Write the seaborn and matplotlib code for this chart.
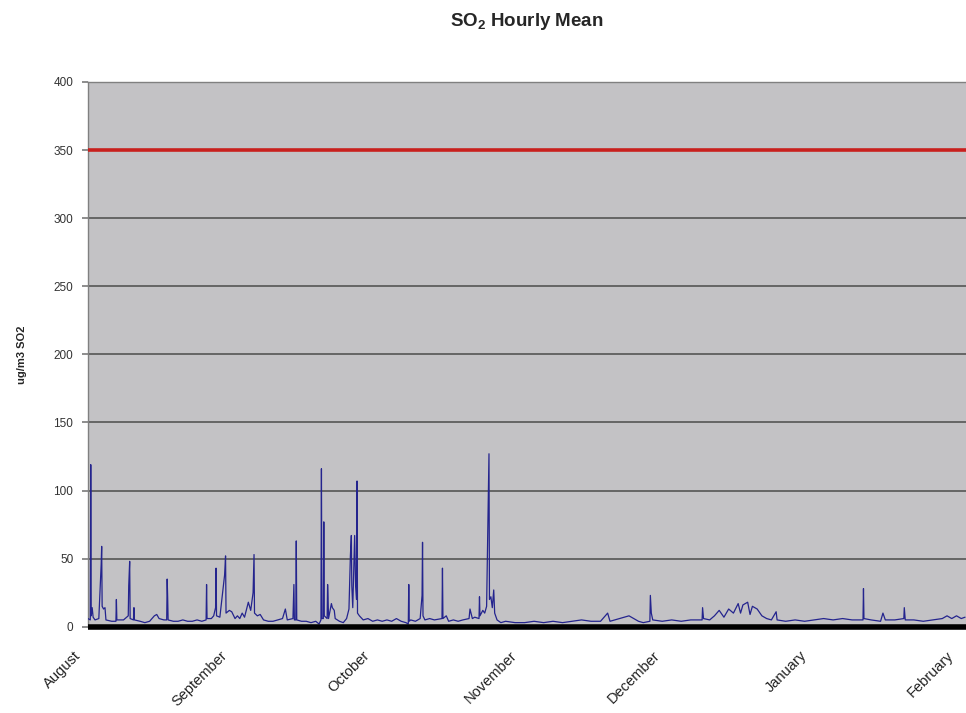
import matplotlib

matplotlib.use("Agg")
import matplotlib.pyplot as plt
import matplotlib.transforms as mtransforms
import pandas as pd
import seaborn as sns

# hourly SO2 readings, x in days since 1 August
day = [
    0.0, 0.5, 0.6, 0.7, 0.9, 1.1, 1.5, 2.3, 2.8, 2.9, 3.0, 3.3, 3.6, 3.8,
    5.0, 5.9, 6.0, 6.1, 7.5, 8.5, 8.6, 8.8, 8.9, 9.6, 9.7, 9.8, 11.0, 12.0,
    13.0, 14.0, 14.5, 15.0, 16.0, 16.6, 16.7, 16.8, 16.9, 18.0, 19.0, 20.0,
    21.0, 22.0, 23.0, 24.0, 24.9, 25.0, 25.1, 26.0, 26.5, 26.9, 27.0, 27.1,
    27.8, 28.8, 29.0, 29.1, 29.8, 30.3, 31.0, 31.5, 32.0, 32.5, 33.0, 33.8,
    34.3, 34.8, 35.0, 35.1, 35.7, 36.3, 37.0, 38.0, 39.0, 40.0, 41.0, 41.6,
    42.0, 43.2, 43.4, 43.5, 43.8, 43.9, 44.0, 45.0, 46.0, 47.0, 48.0, 48.7,
    49.1, 49.2, 49.3, 49.6, 49.7, 49.8, 50.4, 50.5, 50.6, 50.7, 51.3, 51.5,
    51.9, 52.1, 53.0, 53.8, 54.5, 55.0, 55.3, 55.5, 55.6, 55.8, 56.2, 56.4,
    56.6, 56.7, 56.8, 57.2, 58.0, 59.0, 60.0, 61.0, 62.0, 63.0, 64.0, 65.0,
    66.0, 67.0, 67.5, 67.6, 67.7, 68.0, 69.0, 70.0, 70.4, 70.5, 70.6, 71.0,
    72.0, 73.0, 74.6, 74.7, 74.8, 75.5, 76.0, 77.0, 78.0, 79.0, 80.3, 80.5,
    81.0, 81.5, 82.4, 82.5, 82.6, 83.2, 83.6, 84.0, 84.3, 84.5, 84.6, 84.9,
    85.2, 85.5, 85.7, 86.2, 87.0, 88.0, 90.0, 92.0, 94.0, 96.0, 98.0, 100.0,
    102.0, 104.0, 106.0, 108.0, 109.5, 110.0, 112.0, 113.0, 114.0, 115.0,
    116.0, 117.0, 118.4, 118.5, 118.7, 119.0, 121.0, 123.0, 125.0, 127.0,
    129.4, 129.5, 129.7, 131.0, 132.0, 133.0, 134.0, 135.0, 136.0, 137.0,
    137.5, 138.0, 139.0, 139.5, 140.0, 141.0, 142.0, 143.0, 144.0, 145.0,
    145.2, 147.0, 149.0, 151.0, 153.0, 155.0, 157.0, 159.0, 161.0, 163.3,
    163.4, 163.5, 165.0, 167.0, 167.5, 168.0, 170.0, 171.9, 172.0, 172.2,
    174.0, 176.0, 178.0, 180.0, 181.0, 182.0, 183.0, 184.0, 184.8,
]
so2 = [
    6, 5, 119, 8, 14, 7, 5, 6, 46, 59, 15, 13, 14, 5,
    4, 4, 20, 5, 5, 8, 30, 48, 6, 5, 14, 5, 4, 3,
    4, 8, 9, 6, 5, 5, 35, 22, 5, 4, 4, 5,
    4, 4, 5, 4, 5, 31, 6, 6, 8, 14, 43, 8,
    7, 38, 52, 10, 12, 11, 6, 8, 6, 10, 7, 18,
    12, 25, 53, 10, 8, 9, 5, 4, 4, 5, 6, 13,
    5, 6, 31, 5, 5, 63, 5, 4, 4, 3, 4, 2,
    5, 116, 6, 6, 77, 8, 6, 31, 21, 6, 17, 14,
    12, 6, 4, 3, 6, 13, 52, 67, 30, 14, 67, 30,
    20, 107, 10, 8, 5, 6, 4, 5, 4, 5, 4, 6,
    4, 3, 2, 31, 4, 5, 4, 6, 23, 62, 8, 5,
    6, 5, 6, 43, 6, 8, 4, 5, 4, 5, 6, 13,
    6, 7, 6, 22, 8, 12, 10, 15, 83, 127, 20, 22,
    14, 27, 10, 5, 3, 4, 3, 3, 4, 3, 4, 3,
    4, 5, 4, 4, 10, 4, 6, 7, 8, 6,
    4, 3, 4, 23, 10, 5, 4, 5, 4, 5,
    5, 14, 6, 5, 8, 12, 7, 13, 10, 17,
    10, 16, 18, 9, 15, 13, 8, 6, 5, 11,
    5, 4, 5, 4, 5, 6, 5, 6, 5, 5,
    28, 6, 5, 4, 10, 5, 5, 6, 14, 5,
    5, 4, 5, 6, 8, 6, 8, 6, 7,
]

limit = 350
month_start = [0, 31, 61, 92, 122, 153, 184]
month_names = ["August", "September", "October", "November", "December", "January", "February"]


def plot_so2(df):
    sns.set_theme(
        style="white",
        rc={
            "axes.facecolor": "#c3c2c5",
            "axes.edgecolor": "#808080",
            "axes.linewidth": 1.0,
        },
    )
    plt.rcParams["font.family"] = ["Liberation Sans", "DejaVu Sans"]
    plt.rcParams["mathtext.fontset"] = "custom"
    plt.rcParams["mathtext.bf"] = "Liberation Sans:bold"
    plt.rcParams["mathtext.rm"] = "Liberation Sans"

    f = plt.figure(figsize=(9.66, 7.13), dpi=100)
    ax = f.add_axes([0.091, 0.121, 0.909, 0.764])

    for v in range(50, 401, 50):
        ax.axhline(v, color="#555555", lw=1.2, zorder=1)
    ax.axhline(limit, color="#c8201e", lw=2.6, zorder=3)

    sns.lineplot(data=df, x="day", y="so2", color="#24248e", lw=0.9, ax=ax, zorder=4)
    ax.axhline(0, color="black", lw=4, zorder=5, clip_on=False, solid_capstyle="butt")

    ax.set_xlim(0, 185)
    ax.set_ylim(0, 400)
    ax.set_yticks(range(0, 401, 50))
    ax.tick_params(axis="y", labelsize=8.5, length=4.5, direction="out", left=True,
                   color="#808080", pad=6, labelcolor="#333333")
    ax.set_xticks(month_start)
    ax.set_xticklabels(month_names, rotation=45, ha="right", va="center",
                       rotation_mode="anchor", fontsize=10.5, color="#222222")
    ax.tick_params(axis="x", length=0, pad=19)
    # pull the rotated labels a little left so their right ends sit at the tick
    shift = mtransforms.ScaledTranslation(-7 / 72, 0, f.dpi_scale_trans)
    for lbl in ax.get_xticklabels():
        lbl.set_transform(lbl.get_transform() + shift)
    ax.set_xlabel("")
    ax.set_ylabel("ug/m3 SO2", fontsize=8, fontweight="bold", labelpad=19)
    ax.set_title(r"SO$_\mathbf{2}$ Hourly Mean", fontsize=13.5, fontweight="bold", pad=40)
    for side in ["right", "bottom"]:
        ax.spines[side].set_visible(False)
    return f


df_so2 = pd.DataFrame({"day": day, "so2": so2})
fig = plot_so2(df_so2)
fig.savefig("out.png", dpi=100)
